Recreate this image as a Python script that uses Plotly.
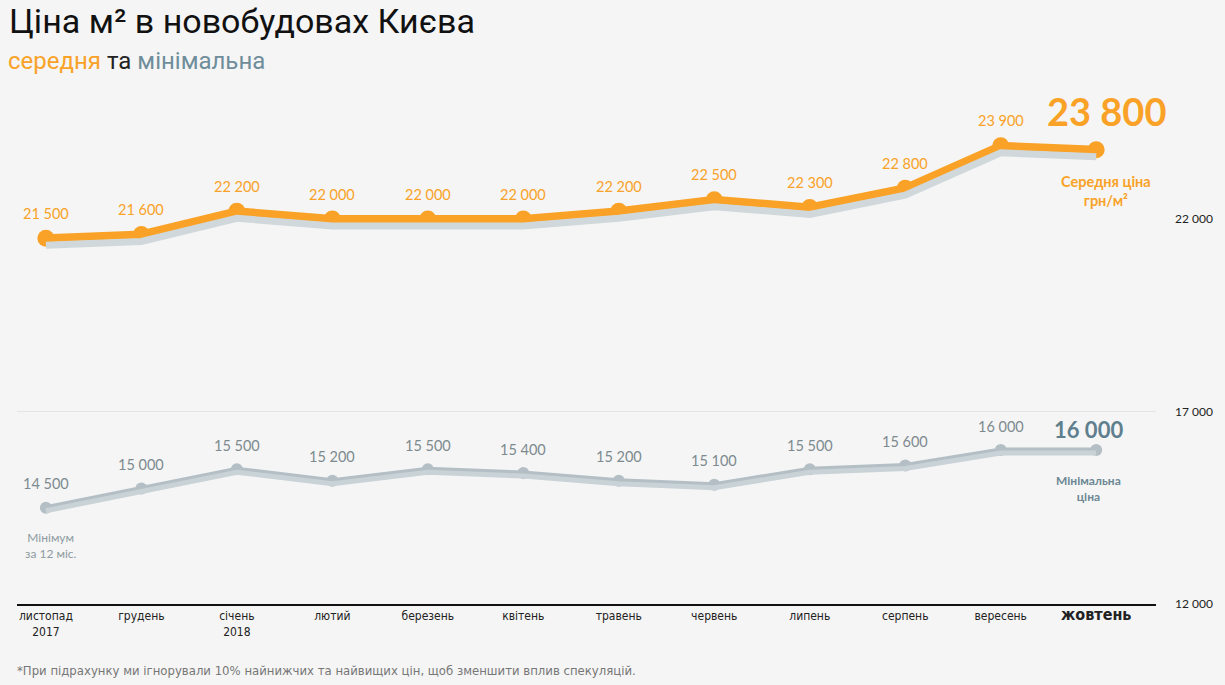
import plotly.graph_objects as go

months = ["листопад<br>2017", "грудень", "січень<br>2018", "лютий", "березень", "квітень",
          "травень", "червень", "липень", "серпень", "вересень",
          "<b><span style='font-size:16px'>жовтень</span></b>"]
avg_price = [21500, 21600, 22200, 22000, 22000, 22000, 22200, 22500, 22300, 22800, 23900, 23800]
min_price = [14500, 15000, 15500, 15200, 15500, 15400, 15200, 15100, 15500, 15600, 16000, 16000]
y_ticks = [12000, 17000, 22000]

def fmt(v):
    return f"{v:,}".replace(",", " ")

x = list(range(len(months)))

ORANGE = "#f9a227"
GREY_LINE = "#b3bfc4"
GREY_TEXT = "#7d8a8f"
BLUE_GREY = "#5f7f8e"
SHADOW = "#d0d8db"
LABEL_FONT = "Lato, Open Sans, sans-serif"

# plot area in pixels
L, R, T, B = 17, 1160, 80, 604
W, H = R - L, B - T
px_per_unit = 38.5 / 1000.0
y_lo = 12000
y_hi = 12000 + H / px_per_unit

def shifted(px):
    d = px / px_per_unit
    return [y_lo + d, y_hi + d]

def px_x(p):
    return (p - L) / W

def px_y(p):
    return (B - p) / H

fig = go.Figure()

# shadows
fig.add_trace(go.Scatter(x=x, y=avg_price, mode="lines", yaxis="y2",
                         line=dict(color=SHADOW, width=7), hoverinfo="skip", showlegend=False))
fig.add_trace(go.Scatter(x=x, y=min_price, mode="lines", yaxis="y3",
                         line=dict(color="#c9d2d6", width=5), hoverinfo="skip", showlegend=False))

fig.add_trace(go.Scatter(x=x, y=avg_price, mode="lines+markers",
                         line=dict(color=ORANGE, width=8), marker=dict(color=ORANGE, size=17),
                         showlegend=False))
fig.add_trace(go.Scatter(x=x, y=min_price, mode="lines+markers",
                         line=dict(color=GREY_LINE, width=5), marker=dict(color=GREY_LINE, size=12),
                         showlegend=False))

annotations = []
for xi, v in zip(x[:-1], avg_price[:-1]):
    annotations.append(dict(x=xi, y=v, xref="x", yref="y", text=fmt(v), showarrow=False,
                            yshift=25, font=dict(family=LABEL_FONT, size=14.5, color=ORANGE)))
for xi, v in zip(x[:-1], min_price[:-1]):
    annotations.append(dict(x=xi, y=v, xref="x", yref="y", text=fmt(v), showarrow=False,
                            yshift=24, font=dict(family=LABEL_FONT, size=14.5, color=GREY_TEXT)))

annotations += [
    dict(x=x[-1], y=avg_price[-1], xref="x", yref="y", text=f"<b>{fmt(avg_price[-1])}</b>",
         showarrow=False, xshift=10, yshift=39,
         font=dict(family=LABEL_FONT, size=38, color=ORANGE)),
    dict(x=x[-1], y=avg_price[-1], xref="x", yref="y", text="<b>Середня ціна<br>грн/м²</b>",
         showarrow=False, xshift=10, yshift=-41,
         font=dict(family=LABEL_FONT, size=14.5, color=ORANGE)),
    dict(x=x[-1], y=min_price[-1], xref="x", yref="y", text=f"<b>{fmt(min_price[-1])}</b>",
         showarrow=False, xshift=-8, yshift=21,
         font=dict(family=LABEL_FONT, size=22, color=BLUE_GREY)),
    dict(x=x[-1], y=min_price[-1], xref="x", yref="y", text="<b>Мінімальна<br>ціна</b>",
         showarrow=False, xshift=-8, yshift=-38,
         font=dict(family=LABEL_FONT, size=12, color="#6c8794")),
    dict(x=x[0], y=min_price[0], xref="x", yref="y", text="Мінімум<br>за 12 міс.",
         showarrow=False, xshift=5, yshift=-38,
         font=dict(family=LABEL_FONT, size=12, color="#8d9ba1")),
    dict(x=px_x(7), y=px_y(21), xref="paper", yref="paper", xanchor="left", yanchor="middle",
         text="Ціна м² в новобудовах Києва", showarrow=False,
         font=dict(family="Roboto, sans-serif", size=34, color="#111111")),
    dict(x=px_x(6), y=px_y(61), xref="paper", yref="paper", xanchor="left", yanchor="middle",
         text=f"<span style='color:{ORANGE}'>середня</span> та <span style='color:#6f8d9a'>мінімальна</span>",
         showarrow=False, font=dict(family="Roboto, sans-serif", size=24, color="#222222")),
    dict(x=px_x(15), y=px_y(670), xref="paper", yref="paper", xanchor="left", yanchor="middle",
         text="*При підрахунку ми ігнорували 10% найнижчих та найвищих цін, щоб зменшити вплив спекуляцій.",
         showarrow=False,
         font=dict(family="Liberation Sans Narrow, DejaVu Sans Condensed, sans-serif", size=13, color="#777777")),
]

shapes = [dict(type="line", xref="paper", yref="y", x0=0, x1=1, y0=17000, y1=17000,
               line=dict(color="#e4e4e4", width=1), layer="below")]

fig.update_layout(
    width=1225, height=685,
    margin=dict(l=L, r=1225 - R, t=T, b=685 - B),
    paper_bgcolor="#f5f5f5", plot_bgcolor="#f5f5f5",
    annotations=annotations, shapes=shapes,
    xaxis=dict(range=[-(46 - L) / 95.8, 11 + (R - 1100) / 95.8], tickmode="array", tickvals=x,
               ticktext=months, showgrid=False, zeroline=False, showline=True,
               linecolor="#111111", linewidth=1.5, ticks="",
               tickfont=dict(family="Liberation Sans Narrow, DejaVu Sans Condensed, sans-serif",
                             size=12, color="#222222")),
    yaxis=dict(range=[y_lo, y_hi], side="right", tickmode="array", tickvals=y_ticks,
               ticktext=[fmt(v) for v in y_ticks], showgrid=False, zeroline=False,
               ticks="", ticklabelstandoff=18,
               tickfont=dict(family=LABEL_FONT, size=12, color="#222222")),
    yaxis2=dict(range=shifted(7), overlaying="y", visible=False),
    yaxis3=dict(range=shifted(3), overlaying="y", visible=False),
)

fig.write_html("out.html", config={"displayModeBar": False},
               post_script="document.body.style.margin='0';document.body.style.background='#f5f5f5';")
